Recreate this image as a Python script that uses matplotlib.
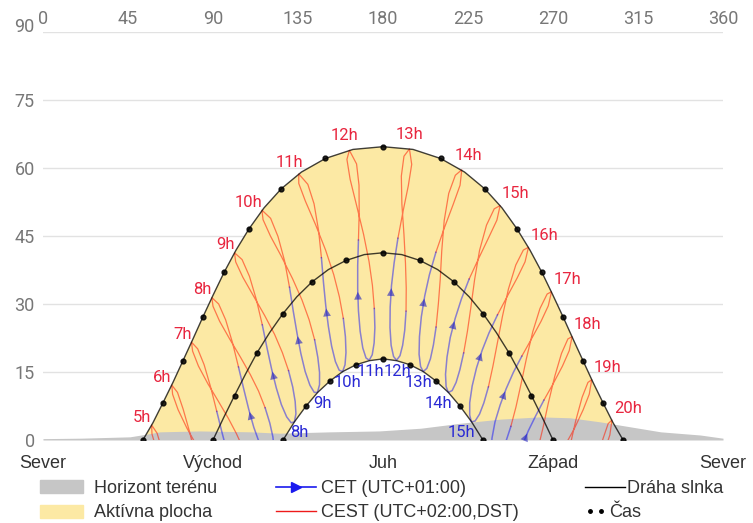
import matplotlib
matplotlib.use('Agg')
import matplotlib.pyplot as plt
from matplotlib.patches import Patch
from matplotlib.lines import Line2D

# sun paths (azimuth, altitude) every half hour of solar time, sunrise -> sunset
summer_az = [52.9, 58.2, 63.5, 68.8, 74.0, 79.3, 84.6, 90.1, 95.9, 102.2, 109.1, 117.0, 126.1, 136.8,
             149.5, 164.1, 180.0, 195.9, 210.5, 223.2, 233.9, 243.0, 250.9, 257.8, 264.1, 269.9,
             275.4, 280.7, 286.0, 291.2, 296.5, 301.8, 307.1]
summer_alt = [0.0, 3.8, 8.2, 12.7, 17.4, 22.2, 27.1, 32.0, 37.0, 41.9, 46.6, 51.2, 55.4, 59.1, 62.1,
              64.1, 64.7, 64.1, 62.1, 59.1, 55.4, 51.2, 46.6, 41.9, 37.0, 32.0, 27.1, 22.2, 17.4,
              12.7, 8.2, 3.8, 0.0]
equinox_az = [90.0, 95.6, 101.4, 107.3, 113.4, 120.0, 126.9, 134.4, 142.5, 151.1, 160.4, 170.1, 180.0,
              189.9, 199.6, 208.9, 217.5, 225.6, 233.1, 240.0, 246.6, 252.7, 258.6, 264.4, 270.0]
equinox_alt = [0.0, 4.9, 9.8, 14.6, 19.3, 23.7, 27.8, 31.6, 34.9, 37.6, 39.6, 40.9, 41.3,
               40.9, 39.6, 37.6, 34.9, 31.6, 27.8, 23.7, 19.3, 14.6, 9.8, 4.9, 0.0]
winter_az = [127.1, 133.1, 139.1, 145.4, 151.9, 158.7, 165.7, 172.8, 180.0,
             187.2, 194.3, 201.3, 208.1, 214.6, 220.9, 226.9, 232.9]
winter_alt = [0.0, 4.0, 7.4, 10.5, 13.0, 15.1, 16.6, 17.5, 17.9, 17.5, 16.6, 15.1, 13.0, 10.5, 7.4, 4.0, 0.0]

# terrain horizon
terrain_az = [0, 20, 46, 55, 62, 83, 110, 125, 152, 178, 200, 221, 242, 263, 279, 295, 311, 327, 348, 360]
terrain_alt = [0.3, 0.4, 0.7, 1.3, 1.8, 2.0, 1.8, 1.5, 1.8, 2.0, 2.6, 3.7, 4.6, 5.1, 4.9, 4.0, 2.9, 1.8, 1.1, 0.4]

# CEST hours, one row per hour, columns Mar 30 .. Oct 26 (column 4 = Jun 21)
cest_hours = list(range(5, 21))
cest_az = [
    [69.0, 66.2, 63.2, 60.4, 57.5, 57.7, 60.3, 64.8, 70.1, 75.2, 79.7, 83.8],
    [80.7, 77.6, 74.2, 71.2, 68.2, 68.6, 71.5, 76.2, 81.6, 86.8, 91.2, 95.1],
    [92.0, 88.8, 85.3, 81.9, 78.6, 79.2, 82.3, 87.3, 92.9, 98.1, 102.4, 106.2],
    [103.5, 100.3, 96.7, 93.0, 89.4, 90.0, 93.5, 98.8, 104.5, 109.8, 114.1, 117.6],
    [116.1, 113.0, 109.3, 105.4, 101.4, 102.0, 105.8, 111.4, 117.3, 122.6, 126.7, 130.0],
    [130.5, 127.9, 124.4, 120.5, 115.9, 116.5, 120.4, 126.2, 132.1, 137.1, 140.9, 143.8],
    [147.4, 145.9, 143.5, 140.2, 135.4, 135.4, 138.9, 144.3, 149.6, 153.9, 156.9, 159.0],
    [167.0, 167.4, 167.3, 166.0, 162.2, 160.9, 162.6, 166.1, 169.7, 172.6, 174.4, 175.4],
    [187.9, 190.6, 193.4, 195.2, 194.0, 191.1, 189.7, 190.0, 191.1, 191.9, 192.3, 192.2],
    [208.0, 212.4, 217.1, 220.8, 221.7, 218.3, 214.8, 212.4, 211.1, 210.3, 209.3, 208.1],
    [225.6, 230.7, 236.0, 240.3, 242.0, 238.9, 234.8, 231.1, 228.5, 226.5, 224.7, 222.7],
    [240.6, 245.8, 251.1, 255.2, 257.0, 254.3, 250.3, 246.4, 243.2, 240.5, 238.2, 235.8],
    [253.5, 258.6, 263.7, 267.5, 269.2, 266.9, 263.1, 259.3, 255.9, 253.0, 250.4, 247.7],
    [265.2, 270.2, 275.0, 278.6, 280.1, 277.9, 274.5, 270.9, 267.5, 264.6, 261.8, 258.9],
    [276.5, 281.4, 285.9, 289.2, 290.5, 288.5, 285.4, 282.0, 278.8, 275.9, 273.1, 270.0],
    [288.0, 292.8, 297.1, 300.1, 301.2, 299.2, 296.4, 293.3, 290.4, 287.6, 284.8, 281.7],
]
cest_alt = [
    [-13.1, -7.6, -2.4, 1.5, 3.3, 1.3, -2.4, -6.7, -11.0, -14.8, -18.3, -21.7],
    [-3.5, 1.8, 6.8, 10.5, 12.1, 10.1, 6.7, 2.6, -1.4, -5.1, -8.4, -11.8],
    [6.3, 11.6, 16.6, 20.1, 21.6, 19.6, 16.3, 12.4, 8.5, 4.8, 1.4, -2.1],
    [16.1, 21.5, 26.5, 30.0, 31.4, 29.5, 26.2, 22.3, 18.3, 14.4, 10.8, 7.1],
    [25.4, 30.9, 36.1, 39.8, 41.3, 39.3, 35.9, 31.8, 27.5, 23.3, 19.3, 15.3],
    [33.7, 39.5, 44.9, 48.9, 50.7, 48.6, 45.0, 40.5, 35.6, 30.9, 26.5, 22.1],
    [40.2, 46.2, 52.1, 56.4, 58.7, 56.6, 52.7, 47.5, 41.9, 36.5, 31.6, 26.8],
    [44.1, 50.2, 56.2, 60.9, 63.9, 61.9, 57.5, 51.6, 45.4, 39.4, 34.1, 29.0],
    [44.5, 50.4, 56.1, 60.8, 64.2, 62.6, 58.2, 52.0, 45.3, 39.0, 33.5, 28.4],
    [41.4, 46.7, 51.9, 56.2, 59.6, 58.4, 54.4, 48.4, 41.7, 35.4, 30.0, 24.9],
    [35.5, 40.1, 44.7, 48.5, 51.7, 51.0, 47.4, 41.8, 35.4, 29.2, 24.0, 19.2],
    [27.6, 31.7, 35.8, 39.3, 42.5, 41.9, 38.6, 33.3, 27.2, 21.3, 16.3, 11.7],
    [18.5, 22.3, 26.2, 29.6, 32.7, 32.2, 29.0, 23.9, 17.9, 12.2, 7.3, 3.0],
    [8.8, 12.5, 16.3, 19.7, 22.8, 22.3, 19.1, 14.0, 8.1, 2.5, -2.3, -6.5],
    [-1.1, 2.6, 6.6, 10.1, 13.3, 12.7, 9.4, 4.2, -1.7, -7.4, -12.1, -16.3],
    [-10.8, -6.8, -2.6, 1.1, 4.4, 3.6, 0.2, -5.2, -11.3, -17.1, -21.9, -26.1],
]

# CET hours, one row per hour, columns Oct 26 .. Mar 30 (column 4 = Dec 21)
cet_hours = list(range(6, 18))
cet_az = [
    [106.2, 108.9, 110.7, 111.6, 111.1, 109.4, 106.8, 103.6, 100.4, 97.5, 94.8, 92.0],
    [117.6, 120.1, 121.7, 122.4, 121.8, 120.1, 117.6, 114.6, 111.6, 108.9, 106.3, 103.5],
    [130.0, 132.2, 133.5, 133.9, 133.1, 131.4, 129.0, 126.2, 123.5, 121.0, 118.6, 116.1],
    [143.8, 145.5, 146.4, 146.4, 145.3, 143.6, 141.3, 138.8, 136.5, 134.5, 132.5, 130.5],
    [159.0, 160.1, 160.4, 159.9, 158.6, 156.8, 154.8, 152.8, 151.1, 149.7, 148.5, 147.4],
    [175.4, 175.7, 175.3, 174.3, 172.7, 171.0, 169.3, 167.9, 167.0, 166.6, 166.6, 167.0],
    [192.2, 191.5, 190.4, 189.0, 187.2, 185.6, 184.3, 183.7, 183.8, 184.5, 185.9, 187.9],
    [208.1, 206.7, 205.1, 203.2, 201.3, 199.9, 199.1, 199.3, 200.3, 202.1, 204.6, 208.0],
    [222.7, 220.7, 218.7, 216.6, 214.6, 213.4, 213.1, 213.9, 215.6, 218.2, 221.5, 225.6],
    [235.8, 233.4, 231.1, 228.8, 226.8, 225.9, 225.9, 227.2, 229.5, 232.5, 236.1, 240.6],
    [247.7, 245.1, 242.5, 240.1, 238.1, 237.3, 237.7, 239.3, 242.0, 245.2, 249.0, 253.5],
    [258.9, 256.1, 253.4, 250.8, 248.8, 248.1, 248.7, 250.6, 253.5, 256.9, 260.8, 265.2],
]
cet_alt = [
    [-2.1, -5.3, -8.3, -10.7, -12.8, -13.2, -12.3, -10.1, -6.6, -2.7, 1.6, 6.3],
    [7.1, 3.7, 0.7, -2.0, -3.9, -4.3, -3.2, -0.7, 2.8, 6.8, 11.2, 16.1],
    [15.3, 11.7, 8.5, 5.8, 4.0, 3.8, 5.1, 7.8, 11.5, 15.7, 20.3, 25.4],
    [22.1, 18.2, 14.9, 12.2, 10.5, 10.5, 12.1, 15.1, 19.1, 23.5, 28.4, 33.7],
    [26.8, 22.8, 19.3, 16.6, 15.1, 15.4, 17.3, 20.7, 25.0, 29.6, 34.7, 40.2],
    [29.0, 24.8, 21.4, 18.8, 17.6, 18.1, 20.3, 24.0, 28.5, 33.3, 38.5, 44.1],
    [28.4, 24.2, 20.9, 18.6, 17.6, 18.4, 20.9, 24.8, 29.3, 34.1, 39.1, 44.5],
    [24.9, 21.0, 17.9, 15.8, 15.1, 16.2, 18.9, 22.8, 27.2, 31.8, 36.5, 41.4],
    [19.2, 15.5, 12.7, 10.9, 10.5, 11.8, 14.5, 18.3, 22.6, 26.8, 31.1, 35.5],
    [11.7, 8.2, 5.7, 4.2, 4.0, 5.5, 8.2, 11.9, 15.9, 19.8, 23.6, 27.6],
    [3.0, -0.3, -2.6, -3.9, -3.8, -2.3, 0.4, 4.0, 7.7, 11.3, 14.9, 18.5],
    [-6.5, -9.6, -11.8, -12.9, -12.6, -11.1, -8.4, -5.0, -1.4, 2.0, 5.3, 8.8],
]

compass = ['Sever', 'Východ', 'Juh', 'Západ', 'Sever']

YELLOW = '#fce9a4'
GREY = '#c6c6c6'
SOLSTICE = 4  # column of Jun 21 / Dec 21 in the tables

fig = plt.figure(figsize=(7.53, 5.23), dpi=100)
ax = fig.add_axes([43 / 753, 1 - 440 / 523, 680 / 753, 408 / 523])
ax.set_xlim(0, 360)
ax.set_ylim(0, 90)
ax.set_xticks(range(0, 361, 45))
ax.set_yticks(range(0, 91, 15))
ax.xaxis.tick_top()
ax.tick_params(length=0, labelsize=13, labelcolor='#777777')
ax.tick_params(axis='x', pad=3)
ax.tick_params(axis='y', pad=6)
for lab in ax.get_xticklabels() + ax.get_yticklabels():
    lab.set_fontfamily('Roboto')
ax.get_yticklabels()[-1].set_va('baseline')
for s in ax.spines.values():
    s.set_visible(False)
ax.grid(axis='y', color='#e2e2e2', lw=1)
ax.set_axisbelow(True)

# active area between summer and winter paths, terrain on top of it
ax.fill(summer_az + winter_az[::-1], summer_alt + winter_alt[::-1], color=YELLOW, lw=0, zorder=1)
ax.fill_between(terrain_az, 0, terrain_alt, color=GREY, lw=0, zorder=2)

for a, l in zip(cest_az, cest_alt):
    ax.plot(a, l, color='#ff1a00', lw=0.9, alpha=0.55, zorder=3)
for a, l in zip(cet_az, cet_alt):
    ax.plot(a, l, color='#0000ff', lw=1.1, alpha=0.45, zorder=3)
    ax.annotate('', xy=(a[9], l[9]), xytext=(a[8], l[8]),
                arrowprops=dict(arrowstyle='-|>', color='#2020c0', lw=0, alpha=0.6, mutation_scale=14),
                zorder=3)

for a, l in [(summer_az, summer_alt), (equinox_az, equinox_alt), (winter_az, winter_alt)]:
    ax.plot(a, l, color='black', lw=1, alpha=0.75, zorder=4)
    ax.plot(a[::2], l[::2], 'o', color='black', ms=3.5, alpha=0.85, zorder=5)

# hour labels: CEST at the summer solstice, CET at the winter solstice
for h, a, l in zip(cest_hours, cest_az, cest_alt):
    if h <= 12:
        dx, dy, ha = {12: 9, 11: 4}.get(h, 0), {12: 15, 11: 11}.get(h, 8), 'right'
    else:
        dx, dy, ha = {13: -14, 14: -7}.get(h, 2), {13: 14, 14: 14}.get(h, 12), 'left'
    ax.annotate(f'{h}h', (a[SOLSTICE], l[SOLSTICE]), xytext=(dx, dy), textcoords='offset pixels',
                ha=ha, va='center', color='#e8263f', fontsize=12, family='Roboto', zorder=6)
for h, a, l in zip(cet_hours, cet_az, cet_alt):
    if l[SOLSTICE] <= 0:
        continue
    dx = {11: 1, 12: 1, 13: -5}.get(h, 5 if h < 11 else -10)
    ax.annotate(f'{h}h', (a[SOLSTICE], l[SOLSTICE]), xytext=(dx, -11), textcoords='offset pixels',
                ha='center', va='center', color='#2a2ad4', fontsize=12, family='Roboto', zorder=6)

for x, s in zip(range(0, 361, 90), compass):
    ax.text(x, -23 / 408, s, transform=ax.get_xaxis_transform(), ha='center', va='center',
            fontsize=13, color='#333333', family='Liberation Sans')

kw = dict(frameon=False, borderpad=0, borderaxespad=0, labelspacing=0.41, loc='upper left',
          prop={'family': 'Liberation Sans', 'size': 13}, labelcolor='#333333')
top = 1 - 480 / 523
fig.legend([Patch(color=GREY), Patch(color=YELLOW)], ['Horizont terénu', 'Aktívna plocha'],
           bbox_to_anchor=(40 / 753, top), handlelength=2.4, handleheight=0.72,
           handletextpad=0.6, **kw)
fig.legend([Line2D([], [], color='#1a1aee', lw=1.2, marker='>', ms=7),
            Line2D([], [], color='#ee1a1a', lw=1)],
           ['CET (UTC+01:00)', 'CEST (UTC+02:00,DST)'],
           bbox_to_anchor=(276 / 753, top), handlelength=2.2, handletextpad=0.3,
           numpoints=1, **kw)
fig.legend([Line2D([], [], color='black', lw=1)], ['Dráha slnka'],
           bbox_to_anchor=(585 / 753, top), handlelength=2.2, handletextpad=0.15, **kw)
fig.legend([Line2D([], [], color='black', ls='none', marker='.', ms=5)], ['Čas'],
           bbox_to_anchor=(585 / 753, top - 24 / 523), handlelength=1.17, handletextpad=0.15,
           numpoints=2, **kw)

fig.savefig('out.png', dpi=100)
